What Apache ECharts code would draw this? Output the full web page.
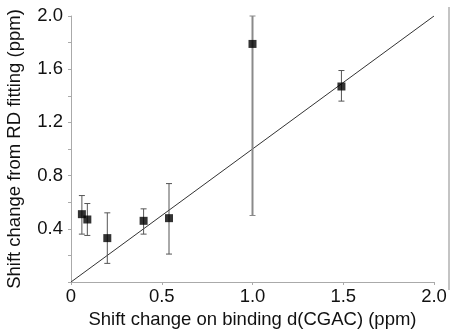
<!DOCTYPE html>
<html lang="en">
<head>
  <meta charset="UTF-8">
  <title>Shift change</title>
  <style>
    html,body{margin:0;padding:0;background:#fff;}
    #main{width:453px;height:336px;}
  </style>
</head>
<body>
  <div id="main"></div>
  <script src="https://cdn.jsdelivr.net/npm/echarts@6/dist/echarts.min.js"></script>
  <script>
    // values
    const xBinding=[0.06,0.09,0.2,0.4,0.54,1.0,1.49];
    const yFit=[0.51,0.47,0.33,0.46,0.48,1.79,1.47];
    const errLow=[0.36,0.35,0.14,0.36,0.21,0.50,1.36];
    const errHigh=[0.65,0.59,0.52,0.55,0.74,2.0,1.59];
    const diagonal=[[0,0],[2,2]];

    const chart=echarts.init(document.querySelector('#main'));
    const font='"Liberation Sans", Arial, sans-serif';

    const points=xBinding.map((x,i)=>[x,yFit[i]]);
    const bars=xBinding.map((x,i)=>[x,errLow[i],errHigh[i],i]);

    const option={
      animation:false,
      grid:{left:71,right:19,top:16,bottom:54,containLabel:false,outerBoundsMode:'none'},
      xAxis:{
        type:'value',min:0,max:2,interval:0.5,
        name:'Shift change on binding d(CGAC) (ppm)',
        nameLocation:'middle',nameGap:27,
        nameTextStyle:{fontFamily:font,fontSize:18.5,color:'#111'},
        axisLine:{lineStyle:{color:'#aaa',width:1}},
        axisTick:{show:true,length:3,lineStyle:{color:'#aaa'}},
        axisLabel:{fontFamily:font,fontSize:18.5,color:'#111',margin:5,
          formatter:v=>v===0?'0':v.toFixed(1)},
        splitLine:{show:false}
      },
      yAxis:{
        type:'value',min:0,max:2,interval:0.2,
        name:'Shift change from RD fitting (ppm)',
        nameLocation:'middle',nameGap:47,
        nameTextStyle:{fontFamily:font,fontSize:18.5,color:'#111'},
        axisLine:{show:true,lineStyle:{color:'#aaa',width:1}},
        axisTick:{show:true,length:3,lineStyle:{color:'#aaa'}},
        axisLabel:{fontFamily:font,fontSize:18.5,color:'#111',margin:8,
          formatter:v=>{
            const k=Math.round(v*10);
            return (k>0 && k%4===0)?v.toFixed(1):'';
          }},
        splitLine:{show:false}
      },
      graphic:[{
        type:'line',
        shape:{x1:449,y1:7,x2:449,y2:290},
        style:{stroke:'#c4c4c4',lineWidth:2}
      }],
      series:[
        {
          type:'line',data:diagonal,symbol:'none',
          lineStyle:{color:'#333',width:1},z:2
        },
        {
          type:'custom',
          data:bars,
          z:3,
          renderItem:(params,api)=>{
            const lo=api.coord([api.value(0),api.value(1)]);
            const hi=api.coord([api.value(0),api.value(2)]);
            const big=api.value(3)===5;
            const color=big?'#8a8a8a':'#555';
            const w=big?2:1;
            const cap=3;
            return {
              type:'group',
              children:[
                {type:'line',shape:{x1:lo[0],y1:lo[1],x2:hi[0],y2:hi[1]},style:{stroke:color,lineWidth:w}},
                {type:'line',shape:{x1:lo[0]-cap,y1:lo[1],x2:lo[0]+cap,y2:lo[1]},style:{stroke:color,lineWidth:1}},
                {type:'line',shape:{x1:hi[0]-cap,y1:hi[1],x2:hi[0]+cap,y2:hi[1]},style:{stroke:color,lineWidth:1}}
              ]
            };
          }
        },
        {
          type:'scatter',data:points,symbol:'rect',symbolSize:8,
          itemStyle:{color:'#000'},z:4
        }
      ]
    };
    chart.setOption(option);
  </script>
</body>
</html>
